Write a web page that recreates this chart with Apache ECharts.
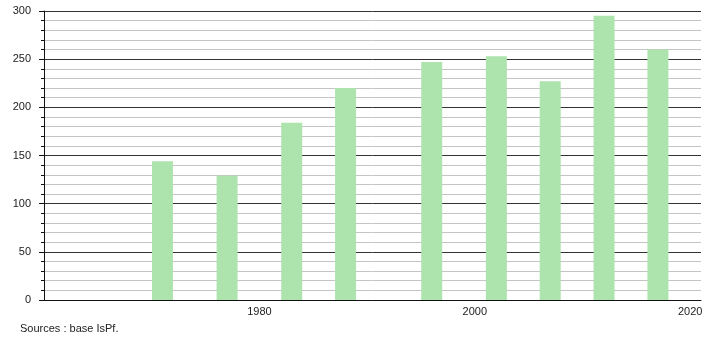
<!DOCTYPE html>
<html>
<head>
<meta charset="utf-8">
<script src="https://cdn.jsdelivr.net/npm/echarts@6/dist/echarts.min.js"></script>
<style>
html,body{margin:0;padding:0;background:#fff;}
#chart{width:710px;height:340px;}
</style>
</head>
<body>
<div id="chart"></div>
<script>
var years = [1971, 1977, 1983, 1988, 1996, 2002, 2007, 2012, 2017];
var values = [144, 129, 184, 220, 247, 253, 227, 295, 260];
var xTickLabels = [1980, 2000, 2020];
var sourceText = 'Sources : base IsPf.';

var chart = echarts.init(document.getElementById('chart'), null, {renderer: 'canvas'});
var font = '"Liberation Sans", Arial, sans-serif';
chart.setOption({
  animation: false,
  backgroundColor: '#ffffff',
  grid: {left: 44, right: 9, top: 11, bottom: 40, containLabel: false},
  xAxis: {
    type: 'value',
    min: 1960,
    max: 2021,
    interval: 20,
    axisLine: {show: true, lineStyle: {color: '#111', width: 1}},
    axisTick: {show: false},
    splitLine: {show: false},
    axisLabel: {
      customValues: xTickLabels,
      formatter: function (v) { return String(v); },
      color: '#222',
      fontFamily: font,
      fontSize: 11,
      margin: 6
    }
  },
  yAxis: {
    type: 'value',
    min: 0,
    max: 300,
    interval: 50,
    axisLine: {show: true, lineStyle: {color: '#111', width: 1}},
    axisTick: {show: true, length: 5, lineStyle: {color: '#111'}},
    minorTick: {show: true, splitNumber: 5, length: 3, lineStyle: {color: '#111'}},
    splitLine: {show: true, lineStyle: {color: '#333', width: 1}},
    minorSplitLine: {show: true, lineStyle: {color: '#c4c4c4', width: 1}},
    axisLabel: {color: '#222', fontFamily: font, fontSize: 11, margin: 13}
  },
  series: [{
    type: 'bar',
    data: years.map(function (y, i) { return [y, values[i]]; }),
    barWidth: 21,
    itemStyle: {color: '#ade3ad'},
    z: 3
  }],
  graphic: [{
    type: 'text',
    left: 20,
    top: 323,
    style: {text: sourceText, fill: '#222', font: '11px ' + font}
  }]
});
</script>
</body>
</html>
